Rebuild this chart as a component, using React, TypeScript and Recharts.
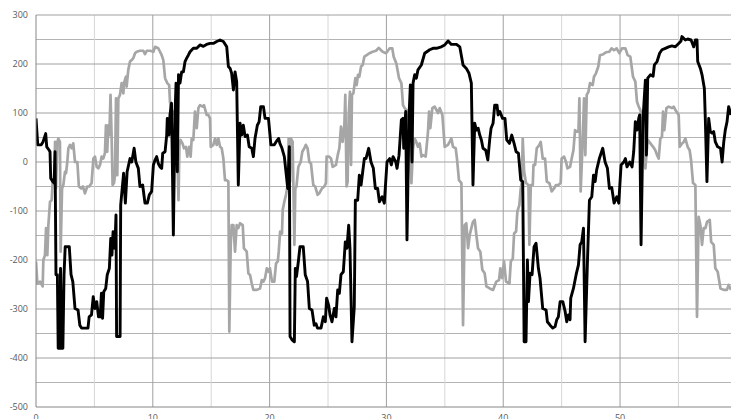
import React from 'react';
import { LineChart, Line, XAxis, YAxis, ReferenceLine } from 'recharts';

const blackX = [0,0.15,0.45,0.6,0.83,0.92,1.1,1.2,1.26,1.43,1.55,1.63,1.71,1.83,1.9,2.05,2.1,2.2,2.3,2.4,2.5,2.85,3.0,3.15,3.34,3.6,3.75,3.9,4.2,4.45,4.55,4.75,4.9,5.05,5.2,5.35,5.5,5.6,5.7,5.8,5.97,6.1,6.28,6.4,6.5,6.6,6.75,6.85,6.9,7.2,7.25,7.5,7.65,7.8,8.05,8.2,8.4,8.55,8.76,8.9,9.13,9.33,9.53,9.7,9.9,
10.05,10.19,10.33,10.47,10.62,10.76,10.85,11.05,11.19,11.24,11.38,11.47,11.6,11.76,11.9,11.99,12.1,12.2,12.33,12.47,12.62,12.76,12.9,13.04,13.19,13.47,13.76,14.04,14.33,14.6,14.9,15.18,15.47,15.76,16.04,16.33,16.47,16.62,16.75,16.9,17.04,17.18,17.32,17.47,17.61,17.75,17.9,18.1,18.25,18.47,18.61,18.75,18.95,19.1,19.24,19.47,19.61,19.9,
20.11,20.4,20.55,20.77,20.88,21.06,21.26,21.4,21.55,21.69,21.75,21.92,22.12,22.2,22.3,22.46,22.6,22.88,23.05,23.25,23.4,23.63,23.82,23.97,24.1,24.4,24.6,24.77,24.88,25.05,25.17,25.34,25.54,25.68,25.83,25.97,26.11,26.31,26.48,26.62,26.77,26.88,27.05,27.25,27.34,27.54,27.68,27.83,27.97,28.11,28.25,28.48,28.68,28.88,29.05,29.25,29.4,29.63,29.82,
30.05,30.28,30.42,30.57,30.8,30.91,31.08,31.28,31.42,31.48,31.65,31.76,31.94,32.05,32.19,32.28,32.42,32.56,32.7,32.99,33.28,33.7,33.99,34.28,34.7,34.99,35.28,35.56,36.0,36.28,36.56,36.84,37.07,37.27,37.41,37.56,37.7,37.85,37.99,38.13,38.27,38.5,38.68,38.84,38.96,39.13,39.27,39.47,39.56,39.71,39.94,
40.15,40.3,40.53,40.73,40.93,41.1,41.3,41.5,41.67,41.79,41.95,42.07,42.16,42.3,42.47,42.64,42.81,43.01,43.15,43.38,43.67,43.78,44.01,44.24,44.44,44.58,44.72,44.87,45.1,45.3,45.44,45.58,45.72,45.78,46.01,46.24,46.44,46.58,46.72,46.87,47.01,47.21,47.38,47.58,47.73,47.87,48.0,48.23,48.52,48.72,48.92,49.09,49.29,49.49,49.72,49.89,
50.09,50.32,50.46,50.6,50.83,51.03,51.17,51.31,51.45,51.6,51.68,51.8,51.97,52.17,52.26,52.37,52.6,52.83,52.94,53.17,53.39,53.59,53.88,54.16,54.45,54.73,55.02,55.22,55.3,55.59,55.79,56.08,56.31,56.45,56.59,56.65,56.88,57.02,57.22,57.3,57.44,57.59,57.73,57.88,58.02,58.16,58.36,58.6,58.74,58.88,59.01,59.16,59.3,59.5];

const blackY = [89,35,35,41,58,31,25,21,-33,-40,-43,21,-230,-230,-380,-380,-217,-380,-380,-230,-173,-173,-230,-244,-299,-302,-333,-339,-339,-339,-316,-312,-275,-299,-285,-316,-316,-268,-319,-265,-258,-230,-217,-156,-190,-142,-176,-108,-356,-356,-88,-23,-84,-20,7,0,28,0,-13,-50,-47,-84,-84,-67,-60,
-6,4,11,-3,-10,-13,18,21,55,89,55,96,120,-149,96,161,-20,178,161,184,184,205,212,218,225,232,232,239,236,240,242,242,246,249,246,235,195,191,181,147,184,164,-47,79,55,75,52,55,31,28,11,48,75,82,113,113,89,89,
35,35,41,48,38,28,11,-20,-54,31,-356,-363,-367,-217,-234,-203,-173,-173,-230,-244,-299,-302,-333,-330,-339,-339,-316,-326,-278,-292,-312,-326,-299,-316,-261,-268,-230,-224,-163,-176,-129,-176,-367,-295,-78,-78,-27,-47,-20,7,7,28,0,-13,-54,-54,-81,-71,-84,
0,7,-6,11,0,-13,14,86,89,28,103,-159,96,157,0,161,178,171,188,198,222,229,232,232,235,239,247,240,240,235,198,191,181,161,-47,79,65,69,55,45,28,24,4,45,69,79,116,116,96,103,89,
89,45,38,55,38,21,18,-37,-40,-367,-367,-200,-285,-227,-230,-173,-166,-217,-237,-299,-302,-326,-333,-339,-336,-322,-316,-285,-285,-305,-326,-312,-322,-278,-258,-230,-210,-169,-163,-135,-367,-203,-78,-71,-27,-40,-16,7,28,0,-13,-54,-52,-84,-71,-84,
-6,0,7,-10,0,-10,21,82,65,89,96,-169,89,167,14,171,178,175,198,205,222,229,232,235,237,235,242,247,256,249,251,249,235,249,249,205,191,178,150,89,-40,89,62,59,62,41,31,28,0,41,65,82,113,96];

const greyX = [0,0.12,0.35,0.57,0.63,0.77,0.86,0.97,1.06,1.2,1.34,1.43,1.55,1.63,1.71,1.83,1.91,2.05,2.11,2.23,2.34,2.48,2.57,2.68,2.77,2.91,3.05,3.19,3.34,3.54,3.67,3.87,4.02,4.19,4.39,4.56,4.76,4.91,5.05,5.2,5.34,5.48,5.62,5.76,5.9,5.99,6.1,6.19,6.28,6.38,6.47,6.56,6.68,6.76,6.85,6.96,7.05,7.19,7.33,7.48,7.53,7.7,7.76,7.9,8.05,8.19,8.33,8.48,8.62,8.9,9.19,9.33,9.48,9.76,
10.05,10.19,10.47,10.62,10.76,10.9,11.05,11.24,11.4,11.47,11.62,11.76,11.9,12.1,12.2,12.28,12.37,12.54,12.67,12.84,12.95,13.12,13.24,13.33,13.47,13.61,13.76,13.9,14.04,14.27,14.38,14.61,14.75,14.9,14.96,15.18,15.33,15.47,15.61,15.76,15.9,16.04,16.18,16.33,16.47,16.55,16.67,16.75,16.9,17.04,17.18,17.32,17.47,17.7,17.8,18.04,18.18,18.33,18.47,18.61,18.9,19.18,19.33,19.47,19.61,19.76,19.9,
20.03,20.2,20.4,20.55,20.7,20.78,20.9,21.06,21.12,21.26,21.4,21.55,21.63,21.75,21.83,21.97,22.03,22.12,22.2,22.3,22.46,22.66,22.8,22.97,23.1,23.25,23.4,23.54,23.74,23.9,24.11,24.25,24.48,24.68,24.82,24.88,25.1,25.26,25.4,25.68,25.83,25.97,26.11,26.25,26.4,26.48,26.59,26.68,26.77,26.88,26.97,27.05,27.17,27.34,27.45,27.57,27.68,27.83,27.97,28.11,28.31,28.54,28.82,29.11,29.34,29.54,29.68,29.97,
30.28,30.5,30.62,30.85,31.08,31.28,31.42,31.56,31.71,31.85,32.0,32.14,32.28,32.42,32.56,32.7,32.85,33.0,33.13,33.36,33.48,33.56,33.65,33.76,33.93,34.13,34.42,34.56,34.79,34.99,35.27,35.41,35.56,35.7,35.93,36.04,36.21,36.42,36.56,36.7,36.84,36.99,37.13,37.27,37.41,37.56,37.7,37.84,38.04,38.21,38.41,38.56,38.84,39.13,39.41,39.64,39.75,39.9,
40.07,40.24,40.53,40.65,40.82,40.93,41.1,41.21,41.38,41.5,41.59,41.67,41.79,41.95,42.16,42.24,42.36,42.53,42.59,42.73,42.87,43.1,43.21,43.38,43.58,43.73,43.95,44.15,44.35,44.52,44.72,44.92,45.0,45.21,45.38,45.5,45.72,45.86,46.01,46.15,46.29,46.44,46.52,46.63,46.8,46.92,47.03,47.15,47.29,47.43,47.66,47.77,47.94,48.14,48.28,48.57,48.8,49.08,49.28,49.48,49.71,49.94,
50.17,50.46,50.65,50.88,51.11,51.31,51.45,51.6,51.74,51.88,52.02,52.17,52.26,52.37,52.6,52.83,53.02,53.17,53.31,53.45,53.59,53.68,53.79,53.97,54.16,54.45,54.59,54.82,55.02,55.11,55.31,55.45,55.59,55.79,55.96,56.08,56.25,56.45,56.59,56.73,56.88,57.02,57.16,57.31,57.45,57.68,57.8,58.02,58.16,58.36,58.6,58.88,59.15,59.3,59.5];

const greyY = [-203,-248,-244,-254,-200,-190,-135,-190,-129,-81,-78,-40,-47,41,-54,41,48,41,-183,-54,-47,-20,-23,0,28,35,28,38,0,0,-50,-54,-50,-64,-50,-50,-43,7,11,-10,-13,-6,11,7,18,75,21,75,55,137,55,-47,-43,-27,130,-27,130,137,161,140,161,174,154,188,205,208,212,222,225,227,227,220,227,227,
225,235,232,225,218,208,171,161,157,123,96,103,96,20,-78,35,45,38,28,31,11,31,11,48,45,103,69,110,116,113,116,96,96,89,31,35,48,35,48,31,28,7,-37,-37,-40,-346,-169,-129,-129,-183,-129,-135,-125,-129,-176,-183,-227,-231,-248,-261,-261,-258,-241,-244,-237,-217,-224,
-217,-244,-244,-207,-203,-183,-142,-146,-98,-81,-67,-47,48,-40,48,41,-40,-169,-54,-50,-10,0,21,28,35,28,0,-3,-47,-50,-67,-64,-54,-50,-43,11,11,7,-10,-6,14,28,72,41,75,137,-50,-40,96,143,-6,137,140,171,157,178,174,195,198,215,218,222,225,227,233,228,225,222,
232,232,215,201,171,161,116,110,106,103,35,-43,28,48,41,31,38,11,14,11,41,62,103,69,110,113,100,110,96,31,35,41,48,31,28,7,-37,-43,-333,-129,-125,-176,-149,-135,-122,-118,-149,-176,-183,-220,-227,-254,-258,-261,-244,-241,-217,-237,
-203,-244,-248,-203,-197,-146,-142,-101,-88,-54,-40,48,-20,-43,-47,-169,-47,-47,-6,-6,28,35,41,7,7,-40,-43,-60,-54,-47,-47,-43,7,11,0,-13,-10,7,24,65,62,62,130,-60,41,130,14,137,143,161,157,174,181,195,218,220,224,225,232,228,232,222,
232,232,218,215,174,164,123,113,106,89,28,-13,14,45,38,31,24,14,7,48,51,103,65,110,113,110,113,103,96,31,38,41,48,31,24,4,-43,-47,-316,-112,-129,-169,-135,-135,-122,-118,-163,-169,-217,-224,-258,-261,-261,-251,-261];

const xTicks = [0, 10, 20, 30, 40, 50];
const yTicks = [-500, -400, -300, -200, -100, 0, 100, 200, 300];
const yMinor = [-450, -350, -250, -150, -50, 50, 150, 250];
const xMinor = [5, 15, 25, 35, 45, 55];

const blackData = blackX.map((x, i) => ({ x, y: blackY[i] }));
const greyData = greyX.map((x, i) => ({ x, y: greyY[i] }));

const tickStyle = { fontSize: 9, fill: '#595959', fontFamily: 'Open Sans, sans-serif' };

export default function App() {
  return (
    <div style={{ position: 'absolute', left: 0, top: 0, width: 731, height: 419, background: '#fff' }}>
      <LineChart width={731} height={419} margin={{ top: 15, right: 0, bottom: 0, left: 0 }}>
        <XAxis type="number" dataKey="x" domain={[0, 59.5]} ticks={xTicks} allowDataOverflow
          tickLine={false} axisLine={{ stroke: '#868686' }} tick={tickStyle} height={12} interval={0} />
        <YAxis type="number" dataKey="y" domain={[-500, 300]} ticks={yTicks} allowDataOverflow
          tickLine={false} axisLine={{ stroke: '#868686' }} tick={tickStyle} width={36} interval={0} />
        {yMinor.map(v => <ReferenceLine key={'ym' + v} y={v} stroke="#b4b4b4" strokeWidth={1} />)}
        {xMinor.map(v => <ReferenceLine key={'xm' + v} x={v} stroke="#d6d6d6" strokeWidth={1} />)}
        {yTicks.filter(v => v > -500).map(v => <ReferenceLine key={'y' + v} y={v} stroke="#a0a0a0" strokeWidth={1} />)}
        {xTicks.filter(v => v > 0).map(v => <ReferenceLine key={'x' + v} x={v} stroke="#a0a0a0" strokeWidth={1} />)}
        <Line data={greyData} dataKey="y" type="linear" stroke="#a6a6a6" strokeWidth={2.7} dot={false}
          isAnimationActive={false} strokeLinejoin="round" />
        <Line data={blackData} dataKey="y" type="linear" stroke="#000000" strokeWidth={2.9} dot={false}
          isAnimationActive={false} strokeLinejoin="round" />
      </LineChart>
    </div>
  );
}
